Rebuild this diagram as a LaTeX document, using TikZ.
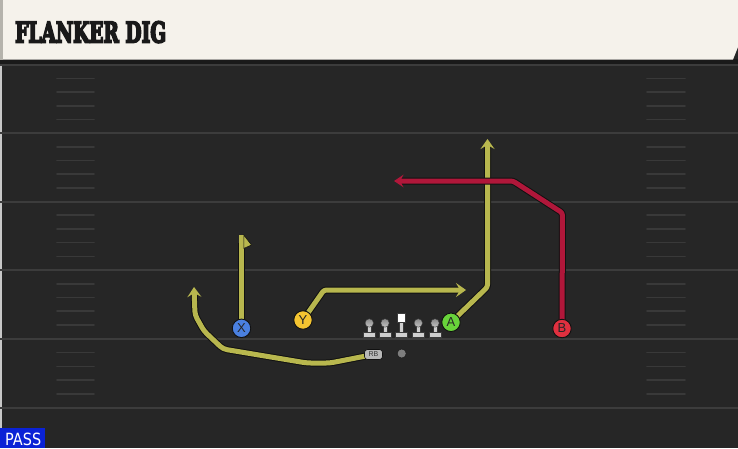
\documentclass[tikz,border=0pt]{standalone}
\usepackage{graphicx}
\usepackage{fontspec}
\usetikzlibrary{arrows.meta}
\newfontfamily\titlefont{DejaVu Serif}[UprightFont={* Bold}, FakeBold=7]
\newfontfamily\lblfont{Liberation Sans}
\newfontfamily\passfont{DejaVu Sans}
\definecolor{fieldc}{HTML}{262626}
\definecolor{bandc}{HTML}{1A1A1A}
\definecolor{headerc}{HTML}{F5F2EB}
\definecolor{hstripc}{HTML}{B5B3AC}
\definecolor{yardc}{HTML}{3C3C3C}
\definecolor{hashc}{HTML}{393939}
\definecolor{routeY}{HTML}{B8B74E}
\definecolor{routeR}{HTML}{B0173A}
\definecolor{edgec}{HTML}{111111}
\definecolor{xblue}{HTML}{4A80E0}
\definecolor{yyellow}{HTML}{F5C531}
\definecolor{agreen}{HTML}{68D33A}
\definecolor{bred}{HTML}{E0303F}
\definecolor{lmbody}{HTML}{CFCFCF}
\definecolor{lmedge}{HTML}{3A3A3A}
\definecolor{lmtop}{HTML}{8A8A8A}
\definecolor{lmbot}{HTML}{C4C4C4}
\definecolor{rbgray}{HTML}{B8B8B8}
\definecolor{qbgray}{HTML}{7E7E7E}
\definecolor{passblue}{HTML}{0A22D6}
\pgfdeclarelayer{bg}
\pgfdeclarelayer{routes}
\pgfsetlayers{bg,routes,main}
\tikzset{
  player/.style={circle, draw=edgec, line width=0.9pt, minimum size=18.5pt, inner sep=0pt,
    font=\lblfont\fontsize{13}{13}\selectfont, text=black!85},
  route/.style={draw=routeY, line width=5pt, line join=round, rounded corners=2.5pt,
    preaction={draw=edgec, line width=7pt, arrows=-, shorten >=8pt}},
  redroute/.style={route, draw=routeR},
  yardline/.style={draw=yardc, line width=2pt},
  hashmark/.style={draw=hashc, line width=1.6pt, line cap=round},
  tipY/.tip={Stealth[length=10pt,width=14pt,inset=4pt]},
  tipR/.tip={Stealth[length=9.5pt,width=12.5pt,inset=3.5pt]},
  lineman/.pic={
    \path[fill=lmbody, draw=lmedge, line width=0.4pt] (-5.8,9) rectangle (5.8,14);
    \path[fill=lmbody, draw=lmedge, line width=0.4pt] (-2.2,2.5) rectangle (2.2,9.3);
    \shade[top color=lmtop, bottom color=lmbot, draw=lmedge, line width=0.4pt] (0,0) circle (4.2);
  },
  centerman/.pic={
    \path[fill=lmbody, draw=lmedge, line width=0.4pt] (-5.8,9) rectangle (5.8,14);
    \path[fill=lmbody, draw=lmedge, line width=0.4pt] (-2.2,-1) rectangle (2.2,9.3);
    \path[fill=white, draw=lmedge, line width=0.4pt] (-4,-10) rectangle (4,-1);
  }
}
\begin{document}
\begin{tikzpicture}[x=1pt,y=-1pt]
\useasboundingbox (0,0) rectangle (738,448);
% field and header
\begin{pgfonlayer}{bg}
  \fill[fieldc] (0,0) rectangle (738,448);
  \fill[bandc] (0,59) rectangle (738,64);
  \fill[headerc] (3,0) -- (738,0) -- (738,47) -- (733,59.5) -- (3,59.5) -- cycle;
  \fill[hstripc] (0,0) rectangle (3,59.5);
  \fill[black!22] (0,64) rectangle (2,448);
  \foreach \yy in {65,133,201.5,270,338.5,408}
    \draw[yardline] (0,\yy) -- (738,\yy);
  \foreach \a/\b in {65/133,133/201.5,201.5/270,270/338.5,338.5/408}
    \foreach \k in {1,...,4} {
      \draw[hashmark] (57,{\a+(\b-\a)*\k/5}) -- (94,{\a+(\b-\a)*\k/5});
      \draw[hashmark] (647,{\a+(\b-\a)*\k/5}) -- (685,{\a+(\b-\a)*\k/5});
    }
\end{pgfonlayer}
% title
\node[anchor=south west, inner sep=0pt, text=black!90] (title) at (15,43)
  {\resizebox{151pt}{21pt}{\titlefont FLANKER DIG}};
% pass tag
\node[anchor=north west, fill=passblue, minimum width=45pt, minimum height=20pt, inner sep=0pt] (passbox) at (0,428) {};
\node[anchor=south west, inner sep=0pt, text=white] (pass) at (5,445.7)
  {\resizebox{36pt}{12.5pt}{\passfont PASS}};
% players
\node[player, fill=xblue] (X) at (241.5,328.3) {X};
\node[player, fill=yyellow] (Y) at (303,320) {Y};
\node[player, fill=agreen] (A) at (451,322.3) {A};
\node[player, fill=bred] (B) at (562,328.5) {B};
\pic (lt1) at (369.3,323) {lineman};
\pic (lt2) at (385,323) {lineman};
\pic (cc) at (401,323) {centerman};
\pic (rt2) at (418.3,323) {lineman};
\pic (rt1) at (435,323) {lineman};
\node[draw=edgec, line width=0.6pt, fill=rbgray, rounded corners=3pt, minimum width=18pt, minimum height=10pt,
  inner sep=0pt, font=\lblfont\fontsize{7}{7}\selectfont, text=black!80] (RB) at (373.5,354.5) {RB};
\node[circle, fill=qbgray, draw=edgec, line width=0.4pt, minimum size=9pt, inner sep=0pt] (QB) at (401.7,353.5) {};
\coordinate (xend) at (241.5,235);
% routes
\begin{pgfonlayer}{routes}
  \draw[route, rounded corners=0pt] (X.center) -- (xend);
  \path[fill=routeY, draw=edgec, line width=0.6pt] (243.8,235) -- (251.5,245) -- (243.8,248.5) -- cycle;
  \draw[route, -tipY] (Y.center) -- (324,290) -- (466,290);
  \draw[route, -tipY] (A.center) -- (487.5,287) -- (487.5,139);
  \draw[redroute, -tipR] (B.center) -- (562.5,213) -- (513,181) -- (394,181);
  \draw[route, rounded corners=4pt, -tipY] (RB.center) -- (330,363) -- (307,363) -- (223,349) -- (204,331) -- (195,315) -- (194,287);
\end{pgfonlayer}
\end{tikzpicture}
\end{document}
